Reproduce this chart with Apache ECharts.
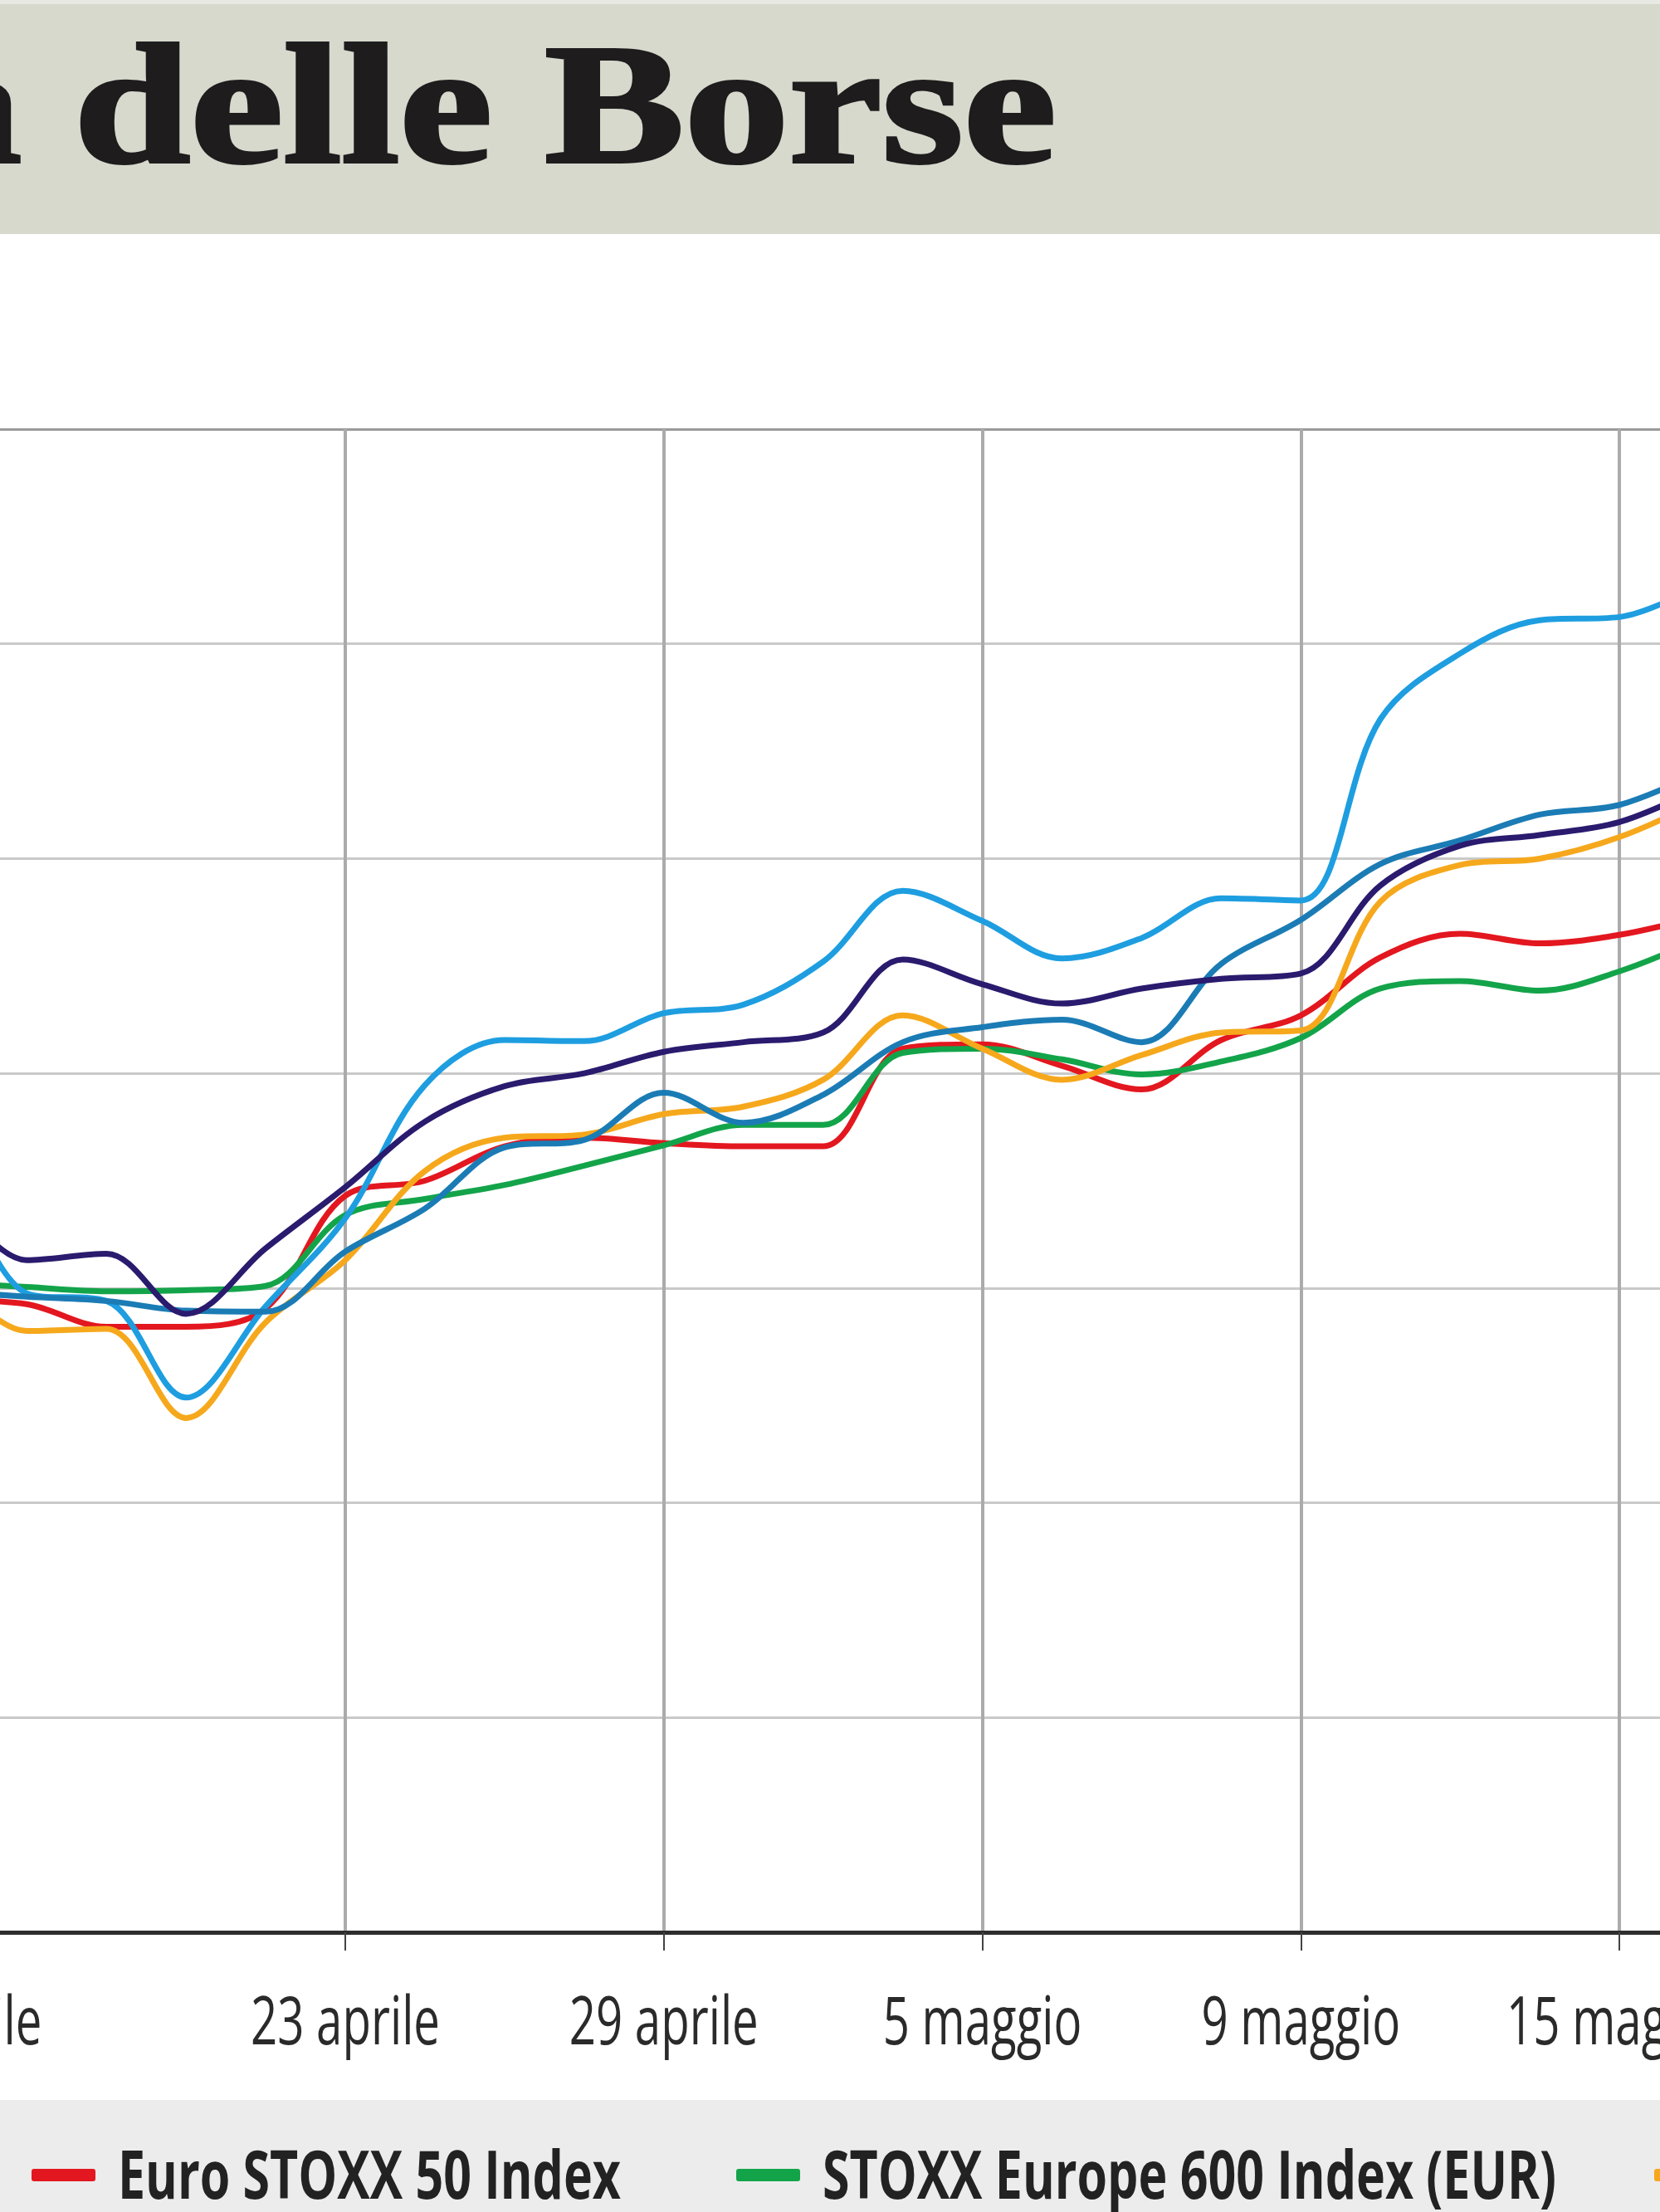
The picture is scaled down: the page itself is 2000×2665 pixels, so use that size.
<!DOCTYPE html>
<html>
<head>
<meta charset="utf-8">
<style>
  html, body { margin: 0; padding: 0; background: #ffffff; }
  #chart { width: 2000px; height: 2665px; }
</style>
<script src="https://cdn.jsdelivr.net/npm/echarts@6/dist/echarts.min.js"></script>
</head>
<body>
<div id="chart"></div>
<script>
// ---- data (percent change) ----
const categories = ['16 aprile','17 aprile','18 aprile','21 aprile','22 aprile','23 aprile','24 aprile','25 aprile','28 aprile','29 aprile','30 aprile','1 maggio','2 maggio','5 maggio','6 maggio','7 maggio','8 maggio','9 maggio','12 maggio','13 maggio','14 maggio','15 maggio','16 maggio'];
const labelIndices = [0, 5, 9, 13, 17, 21];

const euroStoxx50 = [-0.11,-0.15,-0.36,-0.36,-0.19,0.86,1.00,1.32,1.40,1.35,1.32,1.32,2.23,2.27,2.07,1.85,2.31,2.54,3.08,3.30,3.21,3.29,3.46];
const stoxx600    = [0.05,0.01,-0.03,-0.02,0.02,0.68,0.83,0.96,1.14,1.33,1.52,1.52,2.19,2.23,2.13,1.99,2.11,2.33,2.79,2.86,2.77,2.95,3.25];
const ftseMib     = [0.16,-0.40,-0.38,-1.21,-0.32,0.26,1.09,1.40,1.43,1.62,1.69,1.94,2.54,2.23,1.94,2.17,2.38,2.40,3.60,3.94,4.00,4.20,4.53];
const dax         = [1.40,-0.05,-0.12,-1.02,-0.17,0.65,1.89,2.31,2.30,2.56,2.64,3.04,3.70,3.42,3.07,3.26,3.63,3.61,5.30,5.91,6.22,6.25,6.54];
const cac40       = [-0.03,-0.08,-0.12,-0.21,-0.22,0.34,0.74,1.31,1.38,1.82,1.54,1.80,2.29,2.43,2.50,2.29,3.02,3.43,3.95,4.17,4.41,4.50,4.80];
const ibex35      = [0.95,0.26,0.32,-0.24,0.37,0.94,1.55,1.88,2.00,2.20,2.29,2.38,3.06,2.83,2.65,2.79,2.88,2.93,3.75,4.12,4.22,4.34,4.65];

const seriesNames = ['Euro STOXX 50 Index','STOXX Europe 600 Index (EUR)','FTSE MIB','DAX','CAC 40','IBEX 35'];
const seriesColors = ['#e3171f','#13a44a','#f6a81c','#1e9ee0','#1b7cb5','#2a1b6e'];
const seriesData = [euroStoxx50, stoxx600, ftseMib, dax, cac40, ibex35];
const legendNames = [seriesNames[0], seriesNames[1], seriesNames[2]];

const showAt = (i) => labelIndices.indexOf(i) !== -1;

// condensed look: measure the fonts and squeeze horizontally
const LABEL_FONT = "'Open Sans', 'DejaVu Sans', sans-serif";
const mctx = document.createElement('canvas').getContext('2d');
mctx.font = "81px 'Open Sans'";
const labelScale = 228 / mctx.measureText('23 aprile').width;
mctx.font = "bold 80px 'Open Sans'";
const legendScale = 606 / mctx.measureText('Euro STOXX 50 Index').width;

const chart = echarts.init(document.getElementById('chart'));

const baseGraphic = [
  { type: 'rect', z: -10, shape: { x: 0, y: 0, width: 2000, height: 282 }, style: { fill: '#d7d9cd' } },
  { type: 'rect', z: -10, shape: { x: 0, y: 0, width: 2000, height: 5 }, style: { fill: '#e8e9e3' } },
  { type: 'rect', z: -10, shape: { x: 0, y: 2530, width: 2000, height: 135 }, style: { fill: '#ececec' } },
  { type: 'text', z: 10, x: -100, y: 142, scaleX: 1.23,
    style: { text: 'a delle Borse', fontFamily: "'Liberation Serif', serif", fontWeight: 'bold', fontSize: 205,
             fill: '#1e1c1d', stroke: '#1e1c1d', lineWidth: 4, verticalAlign: 'middle', align: 'left' } }
];

const option = {
  backgroundColor: '#ffffff',
  animation: false,
  graphic: baseGraphic,
  grid: { left: -63.7, right: -47, top: 517, bottom: 337, containLabel: false, outerBoundsMode: 'none' },
  xAxis: {
    type: 'category',
    data: categories,
    boundaryGap: false,
    axisLine: { show: true, onZero: false, lineStyle: { color: '#2e2e2e', width: 5 } },
    axisTick: { show: true, interval: (i) => showAt(i), length: 22, lineStyle: { color: '#444', width: 2 } },
    axisLabel: { show: false },
    splitLine: { show: true, interval: (i) => showAt(i), lineStyle: { color: '#ababab', width: 4 } }
  },
  yAxis: {
    type: 'value',
    min: -6, max: 8, interval: 2,
    axisLine: { show: false },
    axisTick: { show: false },
    axisLabel: { show: false },
    splitLine: { show: true, lineStyle: { color: ['#c9c9c9','#c9c9c9','#c9c9c9','#c9c9c9','#c9c9c9','#c9c9c9','#c9c9c9','#9a9a9a'], width: 3 } }
  },
  series: seriesData.map((d, k) => ({
    name: seriesNames[k],
    type: 'line',
    data: d,
    symbol: 'none',
    smooth: 0.35,
    itemStyle: { color: seriesColors[k] },
    lineStyle: { color: seriesColors[k], width: 7 },
    z: 3 + k
  }))
};
chart.setOption(option);

// x-axis date labels, placed through the axis scale
const extra = [];
labelIndices.forEach((idx) => {
  const px = chart.convertToPixel({ xAxisIndex: 0 }, idx);
  extra.push({ type: 'text', z: 10, x: px, y: 2440, scaleX: labelScale,
    style: { text: categories[idx], fontFamily: LABEL_FONT, fontSize: 81, fill: '#2a2a2a', align: 'center', verticalAlign: 'middle' } });
});

// legend (only the part visible in the cropped picture)
const legendX = [38, 887, 1993];
legendNames.forEach((name, k) => {
  const x0 = legendX[k];
  extra.push({ type: 'rect', z: 10, shape: { x: x0, y: 2613, width: 77, height: 15, r: 3 }, style: { fill: seriesColors[k] } });
  extra.push({ type: 'text', z: 10, x: x0 + 104, y: 2626, scaleX: legendScale,
    style: { text: name, fontFamily: LABEL_FONT, fontWeight: 'bold', fontSize: 80, fill: '#222222', align: 'left', verticalAlign: 'middle' } });
});

chart.setOption({ graphic: baseGraphic.concat(extra) });
</script>
</body>
</html>
